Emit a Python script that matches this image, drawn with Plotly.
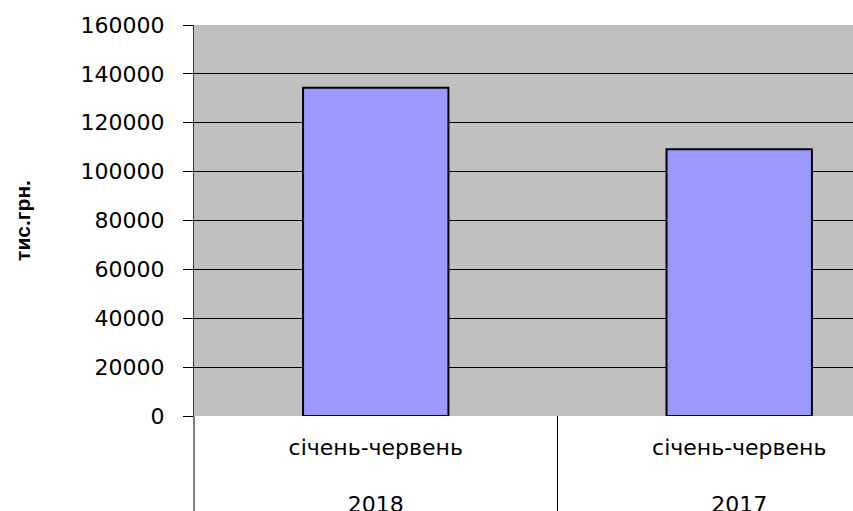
import plotly.graph_objects as go

periods = ["січень-червень", "січень-червень"]
years = ["2018", "2017"]
values = [134300, 109200]
y_ticks = [0, 20000, 40000, 60000, 80000, 100000, 120000, 140000, 160000]
y_title = "тис.грн."

labels = [f"{p}<br><br>{y}" for p, y in zip(periods, years)]

fig = go.Figure()
fig.add_trace(go.Bar(
    x=labels,
    y=values,
    width=0.40,
    marker=dict(color="#9999FF", line=dict(color="black", width=2)),
    hoverinfo="skip",
))

fig.update_layout(
    width=853,
    height=511,
    margin=dict(l=194, r=0, t=25, b=95),
    paper_bgcolor="white",
    plot_bgcolor="#C0C0C0",
    showlegend=False,
    font=dict(family="DejaVu Sans", color="black"),
)

fig.update_xaxes(
    type="category",
    range=[-0.5, 1.313],
    showgrid=False,
    showline=False,
    ticks="",
    zeroline=False,
    automargin=False,
    tickfont=dict(family="DejaVu Sans", size=22, color="black"),
    tickangle=0,
    ticklabelstandoff=16,
)

fig.update_yaxes(
    range=[0, 160000],
    tickvals=y_ticks,
    tickformat="d",
    showgrid=True,
    gridcolor="black",
    gridwidth=1,
    showline=True,
    linecolor="#404040",
    linewidth=1,
    ticks="outside",
    ticklen=10,
    tickcolor="black",
    tickfont=dict(family="DejaVu Sans", size=22, color="black"),
    ticklabelstandoff=14,
    zeroline=False,
    automargin=False,
    title=dict(text=f"<b>{y_title}</b>",
               font=dict(family="Liberation Sans", size=21, color="black"),
               standoff=44),
)

# separator lines below the category axis
fig.add_shape(type="line", xref="x", yref="paper", x0=0.5, x1=0.5, y0=0, y1=-0.3,
              line=dict(color="black", width=1))
fig.add_shape(type="line", xref="paper", yref="paper", x0=0, x1=0, y0=0, y1=-0.3,
              line=dict(color="black", width=1))

# remove the default page margin so the figure fills the window exactly
fig.write_html(
    "out.html",
    config={"displayModeBar": False, "staticPlot": True},
    post_script="document.body.style.margin='0';document.body.style.overflow='hidden';",
)
